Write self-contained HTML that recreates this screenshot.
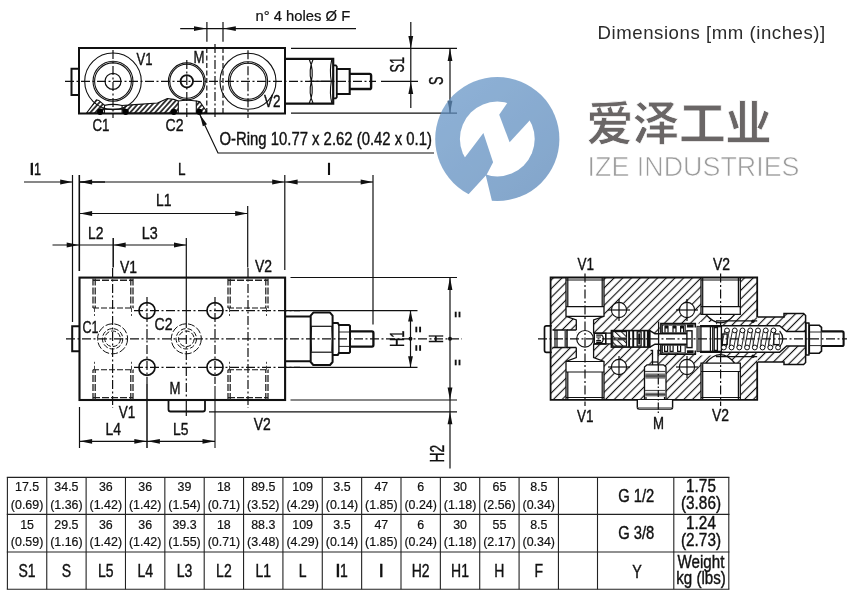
<!DOCTYPE html>
<html><head><meta charset="utf-8"><title>Dimensions</title>
<style>
html,body{margin:0;padding:0;background:#fff;}
body{width:859px;height:596px;overflow:hidden;font-family:"Liberation Sans",sans-serif;}
svg{display:block;}
svg text{font-family:"Liberation Sans",sans-serif;}
</style></head><body>
<svg width="859" height="596" viewBox="0 0 859 596">
<defs>
<pattern id="h" patternUnits="userSpaceOnUse" width="6.145" height="6.145" patternTransform="rotate(-45)">
<line x1="-1" y1="3.98" x2="8" y2="3.98" stroke="#101010" stroke-width="1.15"/>
</pattern>
<pattern id="h2" patternUnits="userSpaceOnUse" width="3.7" height="3.7" patternTransform="rotate(-48)">
<line x1="-1" y1="1.85" x2="5" y2="1.85" stroke="#101010" stroke-width="1.6"/>
</pattern>
<pattern id="h3" patternUnits="userSpaceOnUse" width="4.5" height="4.5" patternTransform="rotate(45)">
<line x1="0" y1="2.2" x2="4.5" y2="2.2" stroke="#101010" stroke-width="1"/>
</pattern>
</defs>
<rect width="859" height="596" fill="#fff"/>
<g opacity="0.999">
<g id="topview">
<path d="M86.6,113 L96.4,99.8 L98.8,100.4 L104.5,105.3 L104.5,113 Z" stroke="#101010" stroke-width="1.1" fill="url(#h2)" stroke-linejoin="miter" />
<path d="M122.1,113 V105.5 L135,104.6 L157.5,103 L167.3,98.5 L173.8,99.4 L178.3,101 V113 Z" stroke="#101010" stroke-width="1.1" fill="url(#h2)" stroke-linejoin="miter" />
<path d="M196.3,113 V101 L199.9,101.7 L206.4,111.2 V113 Z" stroke="#101010" stroke-width="1.1" fill="url(#h2)" stroke-linejoin="miter" />
<path d="M104.5,105.3 Q113,103.5 122.1,105.5" stroke="#101010" stroke-width="1.2" fill="none" stroke-linejoin="miter" />
<path d="M178.3,101 Q187,99.5 196.3,101" stroke="#101010" stroke-width="1.2" fill="none" stroke-linejoin="miter" />
<line x1="100" y1="109.2" x2="126" y2="109.2" stroke="#101010" stroke-width="1.2" stroke-linecap="butt"/>
<rect x="79" y="48" width="206" height="65.5" rx="0" stroke="#101010" stroke-width="2" fill="none"/>
<path d="M79,68.8 H71.5 V95 H79" stroke="#101010" stroke-width="2" fill="none" stroke-linejoin="miter" />
<line x1="65" y1="81.3" x2="376" y2="81.3" stroke="#101010" stroke-width="1.2" stroke-dasharray="9 2.5 2 2.5" stroke-linecap="butt"/>
<line x1="381" y1="81.3" x2="418" y2="81.3" stroke="#101010" stroke-width="1.2" stroke-linecap="butt"/>
<circle cx="113" cy="81.3" r="28.3" stroke="#101010" stroke-width="1.1" fill="none"/>
<circle cx="113" cy="81.3" r="20" stroke="#101010" stroke-width="1.1" fill="none"/>
<circle cx="113" cy="81.3" r="18.4" stroke="#101010" stroke-width="1.1" fill="none"/>
<circle cx="113" cy="81.3" r="8" stroke="#101010" stroke-width="1.2" fill="none"/>
<line x1="113" y1="50.0" x2="113" y2="118" stroke="#101010" stroke-width="1.2" stroke-dasharray="9 2.5 2 2.5" stroke-linecap="butt"/>
<circle cx="248" cy="81.3" r="28" stroke="#101010" stroke-width="1.1" fill="none"/>
<circle cx="248" cy="81.3" r="19.6" stroke="#101010" stroke-width="1.1" fill="none"/>
<circle cx="248" cy="81.3" r="18" stroke="#101010" stroke-width="1.1" fill="none"/>
<line x1="248" y1="50.3" x2="248" y2="118" stroke="#101010" stroke-width="1.2" stroke-dasharray="9 2.5 2 2.5" stroke-linecap="butt"/>
<circle cx="186.8" cy="81.3" r="18.4" stroke="#101010" stroke-width="1.1" fill="none"/>
<circle cx="186.8" cy="81.3" r="17" stroke="#101010" stroke-width="1.1" fill="none"/>
<circle cx="186.8" cy="81.3" r="6.2" stroke="#101010" stroke-width="1.8" fill="none"/>
<line x1="186.8" y1="60" x2="186.8" y2="118" stroke="#101010" stroke-width="1.2" stroke-dasharray="9 2.5 2 2.5" stroke-linecap="butt"/>
<line x1="206.8" y1="48" x2="206.8" y2="113" stroke="#101010" stroke-width="1.2" stroke-dasharray="5 2.5" stroke-linecap="butt"/>
<line x1="223" y1="48" x2="223" y2="113" stroke="#101010" stroke-width="1.2" stroke-dasharray="5 2.5" stroke-linecap="butt"/>
<line x1="215" y1="44" x2="215" y2="118" stroke="#101010" stroke-width="1.2" stroke-dasharray="9 2.5 2 2.5" stroke-linecap="butt"/>
<line x1="206.9" y1="22" x2="206.9" y2="41.7" stroke="#101010" stroke-width="1.2" stroke-linecap="butt"/>
<line x1="223" y1="22" x2="223" y2="41.7" stroke="#101010" stroke-width="1.2" stroke-linecap="butt"/>
<line x1="180.2" y1="28.6" x2="356" y2="28.6" stroke="#101010" stroke-width="1.2" stroke-linecap="butt"/>
<polygon points="206.30,28.60 194.00,31.00 194.00,26.20" fill="#101010"/>
<polygon points="223.50,28.60 235.80,26.20 235.80,31.00" fill="#101010"/>
<text transform="translate(255.50,20.50) scale(0.968,1)" font-size="15.3" text-anchor="start" fill="#111" font-weight="normal" stroke="#111" stroke-width="0.22">n° 4 holes Ø F</text>
<circle cx="100.1" cy="111.8" r="3.1" stroke="none" stroke-width="0" fill="#000"/>
<circle cx="125.7" cy="111.8" r="3.1" stroke="none" stroke-width="0" fill="#000"/>
<circle cx="173.8" cy="111.8" r="3.1" stroke="none" stroke-width="0" fill="#000"/>
<circle cx="199.4" cy="111.8" r="3.1" stroke="none" stroke-width="0" fill="#000"/>
<text transform="translate(136.50,64.50) scale(0.753,1)" font-size="17.4" text-anchor="start" fill="#111" font-weight="normal" stroke="#111" stroke-width="0.40">V1</text>
<text transform="translate(193.50,63.00) scale(0.759,1)" font-size="17.4" text-anchor="start" fill="#111" font-weight="normal" stroke="#111" stroke-width="0.40">M</text>
<text transform="translate(264.00,107.00) scale(0.776,1)" font-size="17.4" text-anchor="start" fill="#111" font-weight="normal" stroke="#111" stroke-width="0.40">V2</text>
<text transform="translate(92.50,131.00) scale(0.764,1)" font-size="17.4" text-anchor="start" fill="#111" font-weight="normal" stroke="#111" stroke-width="0.40">C1</text>
<text transform="translate(165.50,131.00) scale(0.809,1)" font-size="17.4" text-anchor="start" fill="#111" font-weight="normal" stroke="#111" stroke-width="0.40">C2</text>
<path d="M285,58.9 H333.2 V103.7 H285" stroke="#101010" stroke-width="2.2" fill="none" stroke-linejoin="miter" />
<path d="M309.3,59.5 Q314,70 311.3,81.3 Q314,93 309.3,103 M313,59.5 Q308.3,70 311.3,81.3 Q308.3,93 313,103" stroke="#101010" stroke-width="1.15" fill="none" stroke-linejoin="miter" />
<path d="M331.8,59.5 Q329.3,70 331.3,81.3 Q329.3,93 331.8,103" stroke="#101010" stroke-width="1.1" fill="none" stroke-linejoin="miter" />
<line x1="309.5" y1="81.3" x2="333" y2="81.3" stroke="#101010" stroke-width="1.3" stroke-linecap="butt"/>
<path d="M333.2,65.3 H335.8 L336.8,66.5 V97.2 L335.8,98.3 H333.2" stroke="#101010" stroke-width="1.8" fill="none" stroke-linejoin="miter" />
<path d="M336.8,69 H349.7 V94 H336.8" stroke="#101010" stroke-width="2.1" fill="none" stroke-linejoin="miter" />
<path d="M349.7,73.9 H369.6 Q371.1,73.9 371.1,75.6 V87.4 Q371.1,89 369.6,89 H349.7" stroke="#101010" stroke-width="2.4" fill="none" stroke-linejoin="miter" />
<line x1="291" y1="48.4" x2="457" y2="48.4" stroke="#101010" stroke-width="1.2" stroke-linecap="butt"/>
<line x1="291" y1="113.2" x2="457" y2="113.2" stroke="#101010" stroke-width="1.2" stroke-linecap="butt"/>
<line x1="410.8" y1="22" x2="410.8" y2="108" stroke="#101010" stroke-width="1.2" stroke-linecap="butt"/>
<polygon points="410.80,48.40 408.40,35.90 413.20,35.90" fill="#101010"/>
<polygon points="410.80,81.40 413.20,93.90 408.40,93.90" fill="#101010"/>
<text transform="translate(404.00,72.40) rotate(-90) scale(0.653,1)" font-size="19.5" text-anchor="start" fill="#111" font-weight="normal" stroke="#111" stroke-width="0.40">S1</text>
<line x1="450" y1="48.4" x2="450" y2="113.2" stroke="#101010" stroke-width="1.2" stroke-linecap="butt"/>
<polygon points="450.00,48.40 452.40,60.90 447.60,60.90" fill="#101010"/>
<polygon points="450.00,113.20 447.60,100.70 452.40,100.70" fill="#101010"/>
<text transform="translate(443.30,85.10) rotate(-90) scale(0.654,1)" font-size="19.5" text-anchor="start" fill="#111" font-weight="normal" stroke="#111" stroke-width="0.40">S</text>
<path d="M199.8,114.5 L218,153 H434" stroke="#101010" stroke-width="1.2" fill="none" stroke-linejoin="miter" />
<polygon points="199.80,114.50 207.01,124.37 202.85,126.33" fill="#101010"/>
<text transform="translate(219.50,145.30) scale(0.836,1)" font-size="17.8" text-anchor="start" fill="#111" font-weight="normal" stroke="#111" stroke-width="0.40">O-Ring 10.77 x 2.62 (0.42 x 0.1)</text>
</g>
<g id="front">
<line x1="24" y1="182" x2="72.5" y2="182" stroke="#101010" stroke-width="1.2" stroke-linecap="butt"/>
<polygon points="72.50,182.00 60.20,184.40 60.20,179.60" fill="#101010"/>
<line x1="72.5" y1="175" x2="72.5" y2="322" stroke="#101010" stroke-width="1.2" stroke-linecap="butt"/>
<line x1="79.3" y1="175" x2="79.3" y2="271" stroke="#101010" stroke-width="1.6" stroke-linecap="butt"/>
<line x1="79.3" y1="182" x2="284.5" y2="182" stroke="#101010" stroke-width="1.2" stroke-linecap="butt"/>
<polygon points="79.80,182.00 92.10,179.60 92.10,184.40" fill="#101010"/>
<polygon points="284.50,182.00 272.20,184.40 272.20,179.60" fill="#101010"/>
<line x1="80" y1="182" x2="105" y2="182" stroke="#101010" stroke-width="1.4" stroke-linecap="butt"/>
<line x1="284.8" y1="175" x2="284.8" y2="270" stroke="#101010" stroke-width="1.2" stroke-linecap="butt"/>
<line x1="284.5" y1="182" x2="373" y2="182" stroke="#101010" stroke-width="1.2" stroke-linecap="butt"/>
<polygon points="285.30,182.00 297.60,179.60 297.60,184.40" fill="#101010"/>
<polygon points="373.00,182.00 360.70,184.40 360.70,179.60" fill="#101010"/>
<line x1="373" y1="175" x2="373" y2="324.5" stroke="#101010" stroke-width="1.2" stroke-linecap="butt"/>
<text transform="translate(30.50,175.00) scale(0.724,1)" font-size="17.4" text-anchor="start" fill="#111" font-weight="normal" stroke="#111" stroke-width="0.40">I1</text>
<line x1="31.6" y1="163" x2="31.6" y2="175" stroke="#111" stroke-width="1.9" stroke-linecap="butt"/>
<text transform="translate(178.00,175.00) scale(0.779,1)" font-size="17.4" text-anchor="start" fill="#111" font-weight="normal" stroke="#111" stroke-width="0.40">L</text>
<line x1="329" y1="162.8" x2="329" y2="175" stroke="#111" stroke-width="2.1" stroke-linecap="butt"/>
<line x1="79.3" y1="213.5" x2="247.5" y2="213.5" stroke="#101010" stroke-width="1.2" stroke-linecap="butt"/>
<polygon points="79.80,213.50 92.10,211.10 92.10,215.90" fill="#101010"/>
<polygon points="247.50,213.50 235.20,215.90 235.20,211.10" fill="#101010"/>
<line x1="247.7" y1="206" x2="247.7" y2="267.5" stroke="#101010" stroke-width="1.2" stroke-linecap="butt"/>
<text transform="translate(156.00,206.00) scale(0.800,1)" font-size="17.4" text-anchor="start" fill="#111" font-weight="normal" stroke="#111" stroke-width="0.40">L1</text>
<line x1="52.5" y1="245" x2="186.3" y2="245" stroke="#101010" stroke-width="1.2" stroke-linecap="butt"/>
<polygon points="79.00,245.00 66.70,247.40 66.70,242.60" fill="#101010"/>
<polygon points="113.40,245.00 125.70,242.60 125.70,247.40" fill="#101010"/>
<polygon points="186.30,245.00 174.00,247.40 174.00,242.60" fill="#101010"/>
<line x1="113.2" y1="238" x2="113.2" y2="267.5" stroke="#101010" stroke-width="1.5" stroke-linecap="butt"/>
<line x1="186.3" y1="238" x2="186.3" y2="319" stroke="#101010" stroke-width="1.2" stroke-linecap="butt"/>
<text transform="translate(88.00,238.80) scale(0.800,1)" font-size="17.4" text-anchor="start" fill="#111" font-weight="normal" stroke="#111" stroke-width="0.40">L2</text>
<text transform="translate(141.80,238.80) scale(0.826,1)" font-size="17.4" text-anchor="start" fill="#111" font-weight="normal" stroke="#111" stroke-width="0.40">L3</text>
<text transform="translate(120.00,272.50) scale(0.800,1)" font-size="17.4" text-anchor="start" fill="#111" font-weight="normal" stroke="#111" stroke-width="0.40">V1</text>
<text transform="translate(255.00,271.50) scale(0.800,1)" font-size="17.4" text-anchor="start" fill="#111" font-weight="normal" stroke="#111" stroke-width="0.40">V2</text>
<rect x="79.5" y="277.6" width="205.6" height="122.4" rx="0" stroke="#101010" stroke-width="2.1" fill="none"/>
<path d="M79.5,326.3 H72.2 V351.3 H79.5" stroke="#101010" stroke-width="2" fill="none" stroke-linejoin="miter" />
<line x1="66" y1="338.8" x2="462" y2="338.8" stroke="#101010" stroke-width="1.2" stroke-dasharray="9 2.5 2 2.5" stroke-linecap="butt"/>
<line x1="112.6" y1="268" x2="112.6" y2="408" stroke="#101010" stroke-width="1.2" stroke-dasharray="9 2.5 2 2.5" stroke-linecap="butt"/>
<line x1="248" y1="268" x2="248" y2="408" stroke="#101010" stroke-width="1.2" stroke-dasharray="9 2.5 2 2.5" stroke-linecap="butt"/>
<line x1="186.3" y1="319" x2="186.3" y2="404" stroke="#101010" stroke-width="1.2" stroke-dasharray="9 2.5 2 2.5" stroke-linecap="butt"/>
<line x1="186.3" y1="404" x2="186.3" y2="416" stroke="#101010" stroke-width="1.2" stroke-linecap="butt"/>
<line x1="147" y1="297" x2="147" y2="384" stroke="#101010" stroke-width="1.2" stroke-dasharray="9 2.5 2 2.5" stroke-linecap="butt"/>
<line x1="215" y1="297" x2="215" y2="384" stroke="#101010" stroke-width="1.2" stroke-dasharray="9 2.5 2 2.5" stroke-linecap="butt"/>
<line x1="147" y1="384" x2="147" y2="448" stroke="#101010" stroke-width="1.5" stroke-linecap="butt"/>
<line x1="215" y1="386" x2="215" y2="448" stroke="#101010" stroke-width="1.1" stroke-linecap="butt"/>
<line x1="134" y1="310.6" x2="300" y2="310.6" stroke="#101010" stroke-width="1.2" stroke-dasharray="9 2.5 2 2.5" stroke-linecap="butt"/>
<line x1="284" y1="310.6" x2="417.5" y2="310.6" stroke="#101010" stroke-width="1.2" stroke-linecap="butt"/>
<line x1="134" y1="367.3" x2="300" y2="367.3" stroke="#101010" stroke-width="1.2" stroke-dasharray="9 2.5 2 2.5" stroke-linecap="butt"/>
<line x1="284" y1="367.3" x2="417.5" y2="367.3" stroke="#101010" stroke-width="1.2" stroke-linecap="butt"/>
<path d="M93,278.5 V308 M133,278.5 V308 M95.2,278.5 V308 M130.8,278.5 V308" stroke="#222" stroke-width="1.3" fill="none" stroke-dasharray="7 2" stroke-linejoin="miter" />
<line x1="93" y1="308" x2="133.5" y2="308" stroke="#101010" stroke-width="1.1" stroke-dasharray="6 2" stroke-linecap="butt"/>
<path d="M94.5,308 V316 M131.5,308 V316" stroke="#333" stroke-width="0.9" fill="none" stroke-dasharray="4 2" stroke-linejoin="miter" />
<path d="M93,400 V369.8 M133,400 V369.8 M95.2,400 V369.8 M130.8,400 V369.8" stroke="#222" stroke-width="1.3" fill="none" stroke-dasharray="7 2" stroke-linejoin="miter" />
<line x1="93" y1="369.8" x2="133.5" y2="369.8" stroke="#101010" stroke-width="1.1" stroke-dasharray="6 2" stroke-linecap="butt"/>
<path d="M94.5,369.8 V361.8 M131.5,369.8 V361.8" stroke="#333" stroke-width="0.9" fill="none" stroke-dasharray="4 2" stroke-linejoin="miter" />
<path d="M93,280.2 H133" stroke="#222" stroke-width="1.4" fill="none" stroke-dasharray="7 2" stroke-linejoin="miter" />
<path d="M93,397.6 H133" stroke="#222" stroke-width="1.4" fill="none" stroke-dasharray="7 2" stroke-linejoin="miter" />
<path d="M228,278.5 V308 M268,278.5 V308 M230.2,278.5 V308 M265.8,278.5 V308" stroke="#222" stroke-width="1.3" fill="none" stroke-dasharray="7 2" stroke-linejoin="miter" />
<line x1="228" y1="308" x2="268.5" y2="308" stroke="#101010" stroke-width="1.1" stroke-dasharray="6 2" stroke-linecap="butt"/>
<path d="M229.5,308 V316 M266.5,308 V316" stroke="#333" stroke-width="0.9" fill="none" stroke-dasharray="4 2" stroke-linejoin="miter" />
<path d="M228,400 V369.8 M268,400 V369.8 M230.2,400 V369.8 M265.8,400 V369.8" stroke="#222" stroke-width="1.3" fill="none" stroke-dasharray="7 2" stroke-linejoin="miter" />
<line x1="228" y1="369.8" x2="268.5" y2="369.8" stroke="#101010" stroke-width="1.1" stroke-dasharray="6 2" stroke-linecap="butt"/>
<path d="M229.5,369.8 V361.8 M266.5,369.8 V361.8" stroke="#333" stroke-width="0.9" fill="none" stroke-dasharray="4 2" stroke-linejoin="miter" />
<path d="M228,280.2 H268" stroke="#222" stroke-width="1.4" fill="none" stroke-dasharray="7 2" stroke-linejoin="miter" />
<path d="M228,397.6 H268" stroke="#222" stroke-width="1.4" fill="none" stroke-dasharray="7 2" stroke-linejoin="miter" />
<circle cx="147" cy="310.6" r="8" stroke="#101010" stroke-width="1.7" fill="none"/>
<circle cx="147" cy="367.3" r="8" stroke="#101010" stroke-width="1.7" fill="none"/>
<circle cx="215" cy="310.6" r="8" stroke="#101010" stroke-width="1.7" fill="none"/>
<circle cx="215" cy="367.3" r="8" stroke="#101010" stroke-width="1.7" fill="none"/>
<circle cx="112.6" cy="338.8" r="15" stroke="#101010" stroke-width="1" fill="none" stroke-dasharray="7 2"/>
<circle cx="112.6" cy="338.8" r="10.2" stroke="#101010" stroke-width="1" fill="none" stroke-dasharray="5 2"/>
<circle cx="112.6" cy="338.8" r="7.8" stroke="#101010" stroke-width="1" fill="none" stroke-dasharray="5 2"/>
<circle cx="186.3" cy="338.8" r="15" stroke="#101010" stroke-width="1" fill="none" stroke-dasharray="7 2"/>
<circle cx="186.3" cy="338.8" r="10.2" stroke="#101010" stroke-width="1" fill="none" stroke-dasharray="5 2"/>
<circle cx="186.3" cy="338.8" r="7.8" stroke="#101010" stroke-width="1" fill="none" stroke-dasharray="5 2"/>
<text transform="translate(82.50,332.50) scale(0.719,1)" font-size="17.4" text-anchor="start" fill="#111" font-weight="normal" stroke="#111" stroke-width="0.40">C1</text>
<text transform="translate(154.50,329.50) scale(0.809,1)" font-size="17.4" text-anchor="start" fill="#111" font-weight="normal" stroke="#111" stroke-width="0.40">C2</text>
<text transform="translate(169.50,394.30) scale(0.759,1)" font-size="17.4" text-anchor="start" fill="#111" font-weight="normal" stroke="#111" stroke-width="0.40">M</text>
<path d="M168.5,400 V409.5 Q168.5,411.5 170.5,411.5 H203 Q205,411.5 205,409.5 V400" stroke="#101010" stroke-width="1.8" fill="none" stroke-linejoin="miter" />
<line x1="79.5" y1="407" x2="79.5" y2="448" stroke="#101010" stroke-width="1.2" stroke-linecap="butt"/>
<line x1="79.5" y1="441.3" x2="215" y2="441.3" stroke="#101010" stroke-width="1.2" stroke-linecap="butt"/>
<polygon points="79.80,441.30 92.10,438.90 92.10,443.70" fill="#101010"/>
<polygon points="146.60,441.30 134.30,443.70 134.30,438.90" fill="#101010"/>
<polygon points="147.60,441.30 159.90,438.90 159.90,443.70" fill="#101010"/>
<polygon points="214.80,441.30 202.50,443.70 202.50,438.90" fill="#101010"/>
<text transform="translate(118.80,418.00) scale(0.776,1)" font-size="17.4" text-anchor="start" fill="#111" font-weight="normal" stroke="#111" stroke-width="0.40">V1</text>
<text transform="translate(105.50,435.00) scale(0.800,1)" font-size="17.4" text-anchor="start" fill="#111" font-weight="normal" stroke="#111" stroke-width="0.40">L4</text>
<text transform="translate(173.00,435.00) scale(0.800,1)" font-size="17.4" text-anchor="start" fill="#111" font-weight="normal" stroke="#111" stroke-width="0.40">L5</text>
<text transform="translate(253.80,430.00) scale(0.800,1)" font-size="17.4" text-anchor="start" fill="#111" font-weight="normal" stroke="#111" stroke-width="0.40">V2</text>
<path d="M285.1,316.4 H310.8 M285.1,361.3 H310.8" stroke="#101010" stroke-width="2" fill="none" stroke-linejoin="miter" />
<path d="M313.3,312.6 H330 L332.6,315.6 V362 L330,365 H313.3 L310.7,362 V315.6 Z" stroke="#101010" stroke-width="2" fill="none" stroke-linejoin="round" />
<line x1="310.5" y1="326.3" x2="332.5" y2="326.3" stroke="#101010" stroke-width="1.2" stroke-linecap="butt"/>
<line x1="310.5" y1="352.2" x2="332.5" y2="352.2" stroke="#101010" stroke-width="1.2" stroke-linecap="butt"/>
<path d="M311.6,327 Q310.4,339 311.6,351.5 M331.8,327 Q333,339 331.8,351.5" stroke="#101010" stroke-width="0.9" fill="none" stroke-linejoin="miter" />
<path d="M332.6,322.9 H337.8 L338.9,325 H349 L350,326 V352 L349,353 H338.9 L337.8,355 H332.6" stroke="#101010" stroke-width="2" fill="none" stroke-linejoin="miter" />
<line x1="339" y1="332" x2="350" y2="332" stroke="#101010" stroke-width="0.9" stroke-linecap="butt"/>
<line x1="339" y1="346.4" x2="350" y2="346.4" stroke="#101010" stroke-width="0.9" stroke-linecap="butt"/>
<line x1="338.9" y1="325" x2="338.9" y2="353" stroke="#101010" stroke-width="1.4" stroke-linecap="butt"/>
<path d="M350,331.4 H372 Q373.4,331.4 373.4,333 V345 Q373.4,346.6 372,346.6 H350" stroke="#101010" stroke-width="2.3" fill="none" stroke-linejoin="miter" />
<line x1="290.5" y1="277.5" x2="457" y2="277.5" stroke="#101010" stroke-width="1.2" stroke-linecap="butt"/>
<line x1="290.5" y1="400" x2="457" y2="400" stroke="#101010" stroke-width="1.2" stroke-linecap="butt"/>
<line x1="209" y1="411.8" x2="457" y2="411.8" stroke="#101010" stroke-width="1.2" stroke-linecap="butt"/>
<line x1="410.5" y1="310.6" x2="410.5" y2="367.3" stroke="#101010" stroke-width="1.2" stroke-linecap="butt"/>
<polygon points="410.50,310.60 412.90,321.60 408.10,321.60" fill="#101010"/>
<polygon points="410.50,367.30 408.10,356.30 412.90,356.30" fill="#101010"/>
<circle cx="410.5" cy="338.8" r="2" stroke="none" stroke-width="0" fill="#111"/>
<text transform="translate(404.30,347.00) rotate(-90) scale(0.651,1)" font-size="19.5" text-anchor="start" fill="#111" font-weight="normal" stroke="#111" stroke-width="0.40">H1</text>
<line x1="450" y1="277.5" x2="450" y2="468.5" stroke="#101010" stroke-width="1.2" stroke-linecap="butt"/>
<polygon points="450.00,277.50 452.40,290.00 447.60,290.00" fill="#101010"/>
<polygon points="450.00,400.00 447.60,387.50 452.40,387.50" fill="#101010"/>
<polygon points="450.00,411.80 452.40,424.30 447.60,424.30" fill="#101010"/>
<circle cx="450" cy="338.8" r="2" stroke="none" stroke-width="0" fill="#111"/>
<text transform="translate(443.20,343.10) rotate(-90) scale(0.602,1)" font-size="19.5" text-anchor="start" fill="#111" font-weight="normal" stroke="#111" stroke-width="0.40">H</text>
<text transform="translate(443.80,462.50) rotate(-90) scale(0.712,1)" font-size="19.5" text-anchor="start" fill="#111" font-weight="normal" stroke="#111" stroke-width="0.40">H2</text>
<line x1="416.3" y1="326.7" x2="416.3" y2="332.3" stroke="#101010" stroke-width="1.9" stroke-linecap="butt"/>
<line x1="420.09999999999997" y1="326.7" x2="420.09999999999997" y2="332.3" stroke="#101010" stroke-width="1.9" stroke-linecap="butt"/>
<line x1="416.3" y1="345.2" x2="416.3" y2="350.8" stroke="#101010" stroke-width="1.9" stroke-linecap="butt"/>
<line x1="420.09999999999997" y1="345.2" x2="420.09999999999997" y2="350.8" stroke="#101010" stroke-width="1.9" stroke-linecap="butt"/>
<line x1="455.70000000000005" y1="311.7" x2="455.70000000000005" y2="317.3" stroke="#101010" stroke-width="1.9" stroke-linecap="butt"/>
<line x1="459.5" y1="311.7" x2="459.5" y2="317.3" stroke="#101010" stroke-width="1.9" stroke-linecap="butt"/>
<line x1="455.70000000000005" y1="359.7" x2="455.70000000000005" y2="365.3" stroke="#101010" stroke-width="1.9" stroke-linecap="butt"/>
<line x1="459.5" y1="359.7" x2="459.5" y2="365.3" stroke="#101010" stroke-width="1.9" stroke-linecap="butt"/>
</g>
<g id="section">
<rect x="550.6" y="277.4" width="206.6" height="122.6" rx="0" stroke="none" stroke-width="0" fill="url(#h)"/>
<path d="M757.6,317 H784 V313.5 H803.6 L805.6,315.5 V362.5 L803.6,364.5 H784 V362 H757.6 Z" stroke="none" stroke-width="0" fill="#fff" stroke-linejoin="miter" />
<path d="M757.6,317 H784 V313.5 H803.6 L805.6,315.5 V362.5 L803.6,364.5 H784 V362 H757.6 Z" stroke="none" stroke-width="0" fill="url(#h)" stroke-linejoin="miter" />
<path d="M566,277.4 H604 V316.3 L593.6,320 V357.5 L604,361.5 V400 H566 V361.5 L576.3,357.5 V320 L566,316.3 Z" stroke="none" stroke-width="0" fill="#fff" stroke-linejoin="miter" />
<circle cx="585" cy="338.8" r="8.4" fill="#fff"/>
<path d="M550.6,330 H576.3 V333.2 H611 V330.6 H649.8 L655,333.7 H659.7 V323.5 H700 V322 H716 V325.7 H757.6 V352.2 H716 V355.5 H700 V353.2 H659.7 V351.2 H649.8 V347.1 H611 V343.9 H576.3 V347.5 H550.6 Z" stroke="none" stroke-width="0" fill="#fff" stroke-linejoin="miter" />
<path d="M701,277.4 H740.3 V314.3 H734.8 Q720.5,331.3 705.6,314.3 H701 Z" stroke="none" stroke-width="0" fill="#fff" stroke-linejoin="miter" />
<path d="M701,400 H740.3 V363.2 H734.8 Q720.5,346.2 705.6,363.2 H701 Z" stroke="none" stroke-width="0" fill="#fff" stroke-linejoin="miter" />
<path d="M757,325.7 H779.6 L786.6,331.5 H806 V346 H786.6 L779.6,352.2 H757 Z" stroke="none" stroke-width="0" fill="#fff" stroke-linejoin="miter" />
<path d="M644.5,400 V367 L647,364.8 H652.5 V350.5 H650.5 V347 H660.6 V350.5 H658 V364.8 H663.5 L666,367 V400 Z" stroke="none" stroke-width="0" fill="#fff" stroke-linejoin="miter" />
<circle cx="619" cy="310" r="7.6" fill="#fff"/>
<circle cx="619" cy="367" r="7.6" fill="#fff"/>
<circle cx="687" cy="310" r="7.6" fill="#fff"/>
<circle cx="687" cy="367" r="7.6" fill="#fff"/>
<path d="M757.2,317 V277.5 H550.6 V399.8 H757.2 V362" stroke="#101010" stroke-width="1.8" fill="none" stroke-linejoin="miter" />
<path d="M566,277.4 V316.3 L576.3,320 V330 M604,277.4 V316.3 L593.6,320 V333.2 M566,400 V361.5 L576.3,357.5 V347.5 M604,400 V361.5 L593.6,357.5 V343.9" stroke="#101010" stroke-width="1.3" fill="none" stroke-linejoin="miter" />
<path d="M567.8,278 V306.6 M602.2,278 V306.6 M567.8,400 V372 M602.2,400 V372" stroke="#101010" stroke-width="1.2" fill="none" stroke-linejoin="miter" />
<line x1="566" y1="306.6" x2="604" y2="306.6" stroke="#101010" stroke-width="1.2" stroke-linecap="butt"/>
<line x1="566" y1="372" x2="604" y2="372" stroke="#101010" stroke-width="1.2" stroke-linecap="butt"/>
<line x1="566" y1="316.3" x2="604" y2="316.3" stroke="#101010" stroke-width="1.2" stroke-linecap="butt"/>
<line x1="566" y1="361.5" x2="604" y2="361.5" stroke="#101010" stroke-width="1.2" stroke-linecap="butt"/>
<circle cx="585" cy="338.8" r="8.3" stroke="#101010" stroke-width="1.2" fill="none"/>
<line x1="585" y1="273.5" x2="585" y2="406" stroke="#101010" stroke-width="1.2" stroke-dasharray="9 2.5 2 2.5" stroke-linecap="butt"/>
<path d="M701,277.4 V314.3 H740.3 V277.4 M705.6,314.3 Q720.5,331.3 734.8,314.3 M701,400 V363.2 H740.3 V400 M705.6,363.2 Q720.5,346.2 734.8,363.2" stroke="#101010" stroke-width="1.3" fill="none" stroke-linejoin="miter" />
<path d="M702.7,278 V314 M738.4,278 V306.6 M702.7,400 V363.5 M738.4,400 V372" stroke="#101010" stroke-width="1.2" fill="none" stroke-linejoin="miter" />
<line x1="701" y1="280" x2="740.3" y2="280" stroke="#101010" stroke-width="1.2" stroke-linecap="butt"/>
<line x1="701" y1="397.5" x2="740.3" y2="397.5" stroke="#101010" stroke-width="1.2" stroke-linecap="butt"/>
<line x1="566" y1="280" x2="604" y2="280" stroke="#101010" stroke-width="1.2" stroke-linecap="butt"/>
<line x1="566" y1="397.5" x2="604" y2="397.5" stroke="#101010" stroke-width="1.2" stroke-linecap="butt"/>
<line x1="701" y1="306.7" x2="740.3" y2="306.7" stroke="#101010" stroke-width="1.2" stroke-linecap="butt"/>
<line x1="701" y1="371.5" x2="740.3" y2="371.5" stroke="#101010" stroke-width="1.2" stroke-linecap="butt"/>
<line x1="720.6" y1="273.5" x2="720.6" y2="406" stroke="#101010" stroke-width="1.2" stroke-dasharray="9 2.5 2 2.5" stroke-linecap="butt"/>
<circle cx="619" cy="310" r="7.6" stroke="#101010" stroke-width="1.1" fill="none"/>
<line x1="608" y1="310" x2="630" y2="310" stroke="#101010" stroke-width="1.2" stroke-linecap="butt"/>
<line x1="619" y1="299" x2="619" y2="321" stroke="#101010" stroke-width="1.2" stroke-linecap="butt"/>
<circle cx="619" cy="367" r="7.6" stroke="#101010" stroke-width="1.1" fill="none"/>
<line x1="608" y1="367" x2="630" y2="367" stroke="#101010" stroke-width="1.2" stroke-linecap="butt"/>
<line x1="619" y1="356" x2="619" y2="378" stroke="#101010" stroke-width="1.2" stroke-linecap="butt"/>
<circle cx="687" cy="310" r="7.6" stroke="#101010" stroke-width="1.1" fill="none"/>
<line x1="676" y1="310" x2="698" y2="310" stroke="#101010" stroke-width="1.2" stroke-linecap="butt"/>
<line x1="687" y1="299" x2="687" y2="321" stroke="#101010" stroke-width="1.2" stroke-linecap="butt"/>
<circle cx="687" cy="367" r="7.6" stroke="#101010" stroke-width="1.1" fill="none"/>
<line x1="676" y1="367" x2="698" y2="367" stroke="#101010" stroke-width="1.2" stroke-linecap="butt"/>
<line x1="687" y1="356" x2="687" y2="378" stroke="#101010" stroke-width="1.2" stroke-linecap="butt"/>
<path d="M551.6,325.8 H546.4 Q544.5,325.8 544.5,327.8 V350.2 Q544.5,352.3 546.4,352.3 H551.6" stroke="#101010" stroke-width="1.7" fill="#fff" stroke-linejoin="miter" />
<line x1="550.6" y1="325" x2="550.6" y2="353" stroke="#101010" stroke-width="1.8" stroke-linecap="butt"/>
<path d="M552.5,330 H567 V347.5 H552.5" stroke="#101010" stroke-width="1.5" fill="none" stroke-linejoin="miter" />
<line x1="555" y1="330" x2="555" y2="347.5" stroke="#101010" stroke-width="1.2" stroke-linecap="butt"/>
<line x1="557" y1="330" x2="557" y2="347.5" stroke="#101010" stroke-width="1.2" stroke-linecap="butt"/>
<line x1="565.2" y1="330" x2="565.2" y2="347.5" stroke="#444" stroke-width="1.4" stroke-linecap="butt"/>
<path d="M567,330 H576.3 M567,347.5 H576.3 M593.6,333.2 H611 M593.6,343.9 H611" stroke="#101010" stroke-width="1.3" fill="none" stroke-linejoin="miter" />
<path d="M594.2,333.2 H605.8 V343.9 H594.2 Z" stroke="#101010" stroke-width="1.6" fill="none" stroke-linejoin="miter" />
<path d="M596.2,335.2 H602 Q604.8,338.7 602,342.3 H596.2 M596.2,337 H601 M596.2,340.6 H601" stroke="#101010" stroke-width="1.2" fill="none" stroke-linejoin="miter" />
<rect x="611.4" y="330.6" width="38.4" height="16.5" rx="0" stroke="#101010" stroke-width="1.6" fill="none"/>
<rect x="612.7" y="331.6" width="13.8" height="14.5" rx="0" stroke="#101010" stroke-width="1.2" fill="url(#h3)"/>
<rect x="613" y="337.3" width="13.5" height="3.2" rx="0" stroke="none" stroke-width="0" fill="#666"/>
<line x1="629.1" y1="330.6" x2="629.1" y2="347.1" stroke="#101010" stroke-width="1.9" stroke-linecap="butt"/>
<line x1="633.2" y1="330.6" x2="633.2" y2="347.1" stroke="#101010" stroke-width="1.9" stroke-linecap="butt"/>
<line x1="644.3" y1="330.6" x2="644.3" y2="347.1" stroke="#101010" stroke-width="2.0" stroke-linecap="butt"/>
<line x1="648.2" y1="330.6" x2="648.2" y2="347.1" stroke="#101010" stroke-width="2.6" stroke-linecap="butt"/>
<rect x="637.2" y="331.8" width="3.9" height="14.2" rx="0" stroke="#101010" stroke-width="1.3" fill="none"/>
<rect x="638.2" y="333.4" width="1.9" height="11" rx="0" stroke="none" stroke-width="0" fill="#111"/>
<path d="M649.8,330.6 L655,333.7 H686.9 M649.8,347.1 L655,344.2 H686.9" stroke="#101010" stroke-width="1.4" fill="none" stroke-linejoin="miter" />
<line x1="658.6" y1="321.5" x2="658.6" y2="354" stroke="#101010" stroke-width="1.3" stroke-linecap="butt"/>
<path d="M660.9,333.7 V323.6 H695.3 V327.5 M660.9,344.2 V354.3 H695.3 V350.5" stroke="#101010" stroke-width="1.6" fill="none" stroke-linejoin="miter" />
<rect x="662.3" y="325" width="22.9" height="7.9" rx="0" stroke="#101010" stroke-width="1.1" fill="none"/>
<rect x="662.3" y="345.1" width="22.9" height="7.9" rx="0" stroke="#101010" stroke-width="1.1" fill="none"/>
<path d="M665.0,326 V332.5 M668.0,326 V332.5" stroke="#101010" stroke-width="1.2" fill="none" stroke-linejoin="miter" />
<line x1="666.5" y1="325.5" x2="666.5" y2="328.5" stroke="#101010" stroke-width="3.0" stroke-linecap="butt"/>
<path d="M673.0,326 V332.5 M676.0,326 V332.5" stroke="#101010" stroke-width="1.2" fill="none" stroke-linejoin="miter" />
<line x1="674.5" y1="325.5" x2="674.5" y2="328.5" stroke="#101010" stroke-width="3.0" stroke-linecap="butt"/>
<path d="M680.6,326 V332.5 M683.6,326 V332.5" stroke="#101010" stroke-width="1.2" fill="none" stroke-linejoin="miter" />
<line x1="682.1" y1="325.5" x2="682.1" y2="328.5" stroke="#101010" stroke-width="3.0" stroke-linecap="butt"/>
<path d="M664.6,345.5 V351.3 H667.6 V345.5" stroke="#101010" stroke-width="1.2" fill="none" stroke-linejoin="miter" />
<path d="M670.1,345.5 V351.3 H673.1 V345.5" stroke="#101010" stroke-width="1.2" fill="none" stroke-linejoin="miter" />
<path d="M677.6,345.5 V351.3 H680.6 V345.5" stroke="#101010" stroke-width="1.2" fill="none" stroke-linejoin="miter" />
<rect x="686.9" y="330.8" width="5.1" height="16.8" rx="0" stroke="#101010" stroke-width="1.4" fill="#fff"/>
<rect x="686.9" y="324.4" width="6.7" height="3.1" rx="0" stroke="none" stroke-width="0" fill="#111"/>
<rect x="686.9" y="350.3" width="6.7" height="3.1" rx="0" stroke="none" stroke-width="0" fill="#111"/>
<rect x="697.2" y="326.6" width="24.2" height="24.8" rx="0" stroke="#101010" stroke-width="1.4" fill="#fff"/>
<rect x="697.2" y="326.6" width="3.4" height="24.8" rx="0" stroke="none" stroke-width="0" fill="#777"/>
<line x1="701" y1="326.6" x2="701" y2="351.4" stroke="#101010" stroke-width="1.2" stroke-linecap="butt"/>
<line x1="710.4" y1="326.6" x2="710.4" y2="351.4" stroke="#101010" stroke-width="1.2" stroke-linecap="butt"/>
<line x1="712.7" y1="326.6" x2="712.7" y2="351.4" stroke="#101010" stroke-width="1.2" stroke-linecap="butt"/>
<rect x="714.2" y="327.6" width="3.2" height="22.8" rx="0" stroke="#101010" stroke-width="1.3" fill="none"/>
<rect x="722.2" y="334" width="5" height="10.6" rx="0" stroke="#101010" stroke-width="1.3" fill="none"/>
<path d="M757.6,317 H784 V313.5 H803.6 L805.6,315.5 V362.5 L803.6,364.5 H784 V362 H757.6" stroke="#101010" stroke-width="1.5" fill="none" stroke-linejoin="miter" />
<path d="M716,320.8 H757.2 M716,356.6 H757.2" stroke="#101010" stroke-width="1.2" fill="none" stroke-linejoin="miter" />
<path d="M700,325.7 H779.6 L786.6,331.5 H806 M700,352.2 H779.6 L786.6,346 H806" stroke="#101010" stroke-width="1.4" fill="none" stroke-linejoin="miter" />
<circle cx="753" cy="321.3" r="1.7" stroke="none" stroke-width="0" fill="#111"/>
<circle cx="753" cy="356.2" r="1.7" stroke="none" stroke-width="0" fill="#111"/>
<path d="M724.7,330.4 L721.5,347.5 M729.3,330.4 L726.1,347.5" stroke="#101010" stroke-width="0.9" fill="none" stroke-linejoin="miter" />
<path d="M728.0,332.5 L730.5,345.5" stroke="#555" stroke-width="0.6" fill="none" stroke-linejoin="miter" />
<path d="M732.5,330.4 L729.2,347.5 M737.0,330.4 L733.8,347.5" stroke="#101010" stroke-width="0.9" fill="none" stroke-linejoin="miter" />
<path d="M735.8,332.5 L738.3,345.5" stroke="#555" stroke-width="0.6" fill="none" stroke-linejoin="miter" />
<path d="M740.2,330.4 L737.0,347.5 M744.8,330.4 L741.6,347.5" stroke="#101010" stroke-width="0.9" fill="none" stroke-linejoin="miter" />
<path d="M743.5,332.5 L746.0,345.5" stroke="#555" stroke-width="0.6" fill="none" stroke-linejoin="miter" />
<path d="M748.0,330.4 L744.8,347.5 M752.5,330.4 L749.3,347.5" stroke="#101010" stroke-width="0.9" fill="none" stroke-linejoin="miter" />
<path d="M751.2,332.5 L753.8,345.5" stroke="#555" stroke-width="0.6" fill="none" stroke-linejoin="miter" />
<path d="M755.7,330.4 L752.5,347.5 M760.3,330.4 L757.1,347.5" stroke="#101010" stroke-width="0.9" fill="none" stroke-linejoin="miter" />
<path d="M759.0,332.5 L761.5,345.5" stroke="#555" stroke-width="0.6" fill="none" stroke-linejoin="miter" />
<path d="M763.5,330.4 L760.2,347.5 M768.0,330.4 L764.8,347.5" stroke="#101010" stroke-width="0.9" fill="none" stroke-linejoin="miter" />
<path d="M766.8,332.5 L769.3,345.5" stroke="#555" stroke-width="0.6" fill="none" stroke-linejoin="miter" />
<path d="M771.2,330.4 L768.0,347.5 M775.8,330.4 L772.6,347.5" stroke="#101010" stroke-width="0.9" fill="none" stroke-linejoin="miter" />
<path d="M774.5,332.5 L777.0,345.5" stroke="#555" stroke-width="0.6" fill="none" stroke-linejoin="miter" />
<circle cx="727.0" cy="330.4" r="2.4" stroke="#101010" stroke-width="1" fill="#fff"/>
<circle cx="734.75" cy="330.4" r="2.4" stroke="#101010" stroke-width="1" fill="#fff"/>
<circle cx="742.5" cy="330.4" r="2.4" stroke="#101010" stroke-width="1" fill="#fff"/>
<circle cx="750.25" cy="330.4" r="2.4" stroke="#101010" stroke-width="1" fill="#fff"/>
<circle cx="758.0" cy="330.4" r="2.4" stroke="#101010" stroke-width="1" fill="#fff"/>
<circle cx="765.75" cy="330.4" r="2.4" stroke="#101010" stroke-width="1" fill="#fff"/>
<circle cx="773.5" cy="330.4" r="2.4" stroke="#101010" stroke-width="1" fill="#fff"/>
<circle cx="723.8" cy="347.5" r="2.4" stroke="#101010" stroke-width="1" fill="#fff"/>
<circle cx="731.55" cy="347.5" r="2.4" stroke="#101010" stroke-width="1" fill="#fff"/>
<circle cx="739.3" cy="347.5" r="2.4" stroke="#101010" stroke-width="1" fill="#fff"/>
<circle cx="747.05" cy="347.5" r="2.4" stroke="#101010" stroke-width="1" fill="#fff"/>
<circle cx="754.8" cy="347.5" r="2.4" stroke="#101010" stroke-width="1" fill="#fff"/>
<circle cx="762.55" cy="347.5" r="2.4" stroke="#101010" stroke-width="1" fill="#fff"/>
<circle cx="770.3" cy="347.5" r="2.4" stroke="#101010" stroke-width="1" fill="#fff"/>
<circle cx="778.05" cy="347.5" r="2.4" stroke="#101010" stroke-width="1" fill="#fff"/>
<rect x="773.8" y="334" width="5.8" height="10.6" rx="0" stroke="#101010" stroke-width="1.3" fill="#fff"/>
<path d="M779.6,331 Q786,338.8 779.6,347" stroke="#101010" stroke-width="1.2" fill="#fff" stroke-linejoin="miter" />
<path d="M806,323 H809 V355 H806 Z" stroke="#101010" stroke-width="1.5" fill="#fff" stroke-linejoin="round" />
<path d="M809.3,325.3 H819.3 L821.5,327.3 V351.2 L819.3,353.2 H809.3 Z" stroke="#101010" stroke-width="1.6" fill="#fff" stroke-linejoin="miter" />
<line x1="809.6" y1="332" x2="821.7" y2="332" stroke="#101010" stroke-width="0.9" stroke-linecap="butt"/>
<line x1="809.6" y1="345.6" x2="821.7" y2="345.6" stroke="#101010" stroke-width="0.9" stroke-linecap="butt"/>
<path d="M821.7,331.4 H842 Q843.6,331.4 843.6,333 V344.4 Q843.6,346 842,346 H821.7" stroke="#101010" stroke-width="2.1" fill="#fff" stroke-linejoin="miter" />
<path d="M644.5,400 V367 L647,364.8 H663.5 L666,367 V400 M652.5,364.8 V350.5 H650.5 M658,364.8 V350.5 H660.6" stroke="#101010" stroke-width="1.3" fill="none" stroke-linejoin="miter" />
<line x1="652.5" y1="362" x2="658" y2="362" stroke="#101010" stroke-width="1.2" stroke-linecap="butt"/>
<linearGradient id="mg" x1="0" y1="0" x2="0" y2="1"><stop offset="0" stop-color="#999"/><stop offset="0.5" stop-color="#444"/><stop offset="1" stop-color="#aaa"/></linearGradient>
<rect x="645.2" y="373.3" width="20.2" height="5.6" rx="0" stroke="none" stroke-width="0" fill="url(#mg)"/>
<rect x="645.2" y="392.6" width="20.2" height="4" rx="0" stroke="none" stroke-width="0" fill="url(#mg)"/>
<line x1="645" y1="371.5" x2="665.5" y2="371.5" stroke="#444" stroke-width="1.2" stroke-linecap="butt"/>
<line x1="645" y1="390.5" x2="665.5" y2="390.5" stroke="#555" stroke-width="1.2" stroke-linecap="butt"/>
<path d="M646,397 V399.5 M664.5,397 V399.5" stroke="#101010" stroke-width="1.2" fill="none" stroke-linejoin="miter" />
<path d="M637.3,400 V407.3 Q637.3,409.1 639.2,409.1 H670.8 Q672.6,409.1 672.6,407.3 V400" stroke="#101010" stroke-width="1.4" fill="#fff" stroke-linejoin="miter" />
<line x1="637.3" y1="407.6" x2="672.6" y2="407.6" stroke="#666" stroke-width="0.8" stroke-linecap="butt"/>
<line x1="658.3" y1="365" x2="658.3" y2="415" stroke="#101010" stroke-width="1.2" stroke-dasharray="7 2 1.5 2" stroke-linecap="butt"/>
<line x1="538" y1="338.9" x2="847" y2="338.9" stroke="#101010" stroke-width="1.2" stroke-dasharray="9 2.5 2 2.5" stroke-linecap="butt"/>
<text transform="translate(577.60,270.00) scale(0.776,1)" font-size="17.4" text-anchor="start" fill="#111" font-weight="normal" stroke="#111" stroke-width="0.40">V1</text>
<text transform="translate(713.00,270.00) scale(0.800,1)" font-size="17.4" text-anchor="start" fill="#111" font-weight="normal" stroke="#111" stroke-width="0.40">V2</text>
<text transform="translate(577.00,422.00) scale(0.776,1)" font-size="17.4" text-anchor="start" fill="#111" font-weight="normal" stroke="#111" stroke-width="0.40">V1</text>
<text transform="translate(712.00,421.40) scale(0.800,1)" font-size="17.4" text-anchor="start" fill="#111" font-weight="normal" stroke="#111" stroke-width="0.40">V2</text>
<text transform="translate(653.00,429.00) scale(0.759,1)" font-size="17.4" text-anchor="start" fill="#111" font-weight="normal" stroke="#111" stroke-width="0.40">M</text>
</g>
<g id="logo">
<linearGradient id="lg" gradientUnits="userSpaceOnUse" x1="450" y1="85" x2="545" y2="195"><stop offset="0" stop-color="#6494c6"/><stop offset="1" stop-color="#5685b8"/></linearGradient>
<clipPath id="ic"><circle cx="497.3" cy="139" r="38.3"/></clipPath>
<mask id="lm" maskUnits="userSpaceOnUse" x="430" y="70" width="140" height="140">
<circle cx="497.3" cy="139" r="62.1" fill="#fff"/>
<circle cx="497.3" cy="139" r="37.4" fill="#000"/>
<g clip-path="url(#ic)" fill="#fff">
<polygon points="508.6,101 499.2,114.8 509.6,142.3 531.5,118.5 545,100 520,90"/>
<polygon points="463.5,159.2 483.4,133.1 493.1,162.3 485.2,177.5 470,190 450,170"/>
</g>
<polygon points="485.8,175.6 466,197 470,210 494.5,210 491.9,200.7" fill="#000"/>
</mask>
<rect x="430" y="70" width="140" height="140" fill="url(#lg)" opacity="0.73" mask="url(#lm)"/>
<text x="586.5 632.7 678.9 725.1" y="139.6" font-size="46.8" font-weight="bold" text-anchor="start" fill="#6a6666" stroke="#fff" stroke-width="0.75" stroke-linejoin="round" style="font-family:'Liberation Sans','Noto Sans CJK SC',sans-serif">爱泽工业</text>
<text stroke="#fff" stroke-width="0.7" transform="translate(587.60,176.00) scale(0.984,1)" font-size="27.3" text-anchor="start" fill="#9b9b9b" font-weight="normal">IZE INDUSTRIES</text>
<text transform="translate(597.50,39.20) scale(1.000,1)" font-size="18.6" text-anchor="start" fill="#2b2b2b" font-weight="normal" letter-spacing="0.56">Dimensions [mm (inches)]</text>
</g>
<g id="table">
<line x1="6.800000000000001" y1="477.4" x2="729.4" y2="477.4" stroke="#222" stroke-width="1.1" stroke-linecap="butt"/>
<line x1="6.800000000000001" y1="514.4" x2="729.4" y2="514.4" stroke="#222" stroke-width="1.1" stroke-linecap="butt"/>
<line x1="6.800000000000001" y1="552" x2="729.4" y2="552" stroke="#222" stroke-width="1.1" stroke-linecap="butt"/>
<line x1="6.800000000000001" y1="589.3" x2="729.4" y2="589.3" stroke="#222" stroke-width="1.1" stroke-linecap="butt"/>
<line x1="7.4" y1="477.4" x2="7.4" y2="589.3" stroke="#222" stroke-width="1.1" stroke-linecap="butt"/>
<line x1="46.76" y1="477.4" x2="46.76" y2="589.3" stroke="#222" stroke-width="1.1" stroke-linecap="butt"/>
<line x1="86.12" y1="477.4" x2="86.12" y2="589.3" stroke="#222" stroke-width="1.1" stroke-linecap="butt"/>
<line x1="125.48" y1="477.4" x2="125.48" y2="589.3" stroke="#222" stroke-width="1.1" stroke-linecap="butt"/>
<line x1="164.84" y1="477.4" x2="164.84" y2="589.3" stroke="#222" stroke-width="1.1" stroke-linecap="butt"/>
<line x1="204.20000000000002" y1="477.4" x2="204.20000000000002" y2="589.3" stroke="#222" stroke-width="1.1" stroke-linecap="butt"/>
<line x1="243.56" y1="477.4" x2="243.56" y2="589.3" stroke="#222" stroke-width="1.1" stroke-linecap="butt"/>
<line x1="282.91999999999996" y1="477.4" x2="282.91999999999996" y2="589.3" stroke="#222" stroke-width="1.1" stroke-linecap="butt"/>
<line x1="322.28" y1="477.4" x2="322.28" y2="589.3" stroke="#222" stroke-width="1.1" stroke-linecap="butt"/>
<line x1="361.64" y1="477.4" x2="361.64" y2="589.3" stroke="#222" stroke-width="1.1" stroke-linecap="butt"/>
<line x1="401.0" y1="477.4" x2="401.0" y2="589.3" stroke="#222" stroke-width="1.1" stroke-linecap="butt"/>
<line x1="440.35999999999996" y1="477.4" x2="440.35999999999996" y2="589.3" stroke="#222" stroke-width="1.1" stroke-linecap="butt"/>
<line x1="479.71999999999997" y1="477.4" x2="479.71999999999997" y2="589.3" stroke="#222" stroke-width="1.1" stroke-linecap="butt"/>
<line x1="519.08" y1="477.4" x2="519.08" y2="589.3" stroke="#222" stroke-width="1.1" stroke-linecap="butt"/>
<line x1="558.4399999999999" y1="477.4" x2="558.4399999999999" y2="589.3" stroke="#222" stroke-width="1.1" stroke-linecap="butt"/>
<line x1="597.5" y1="477.4" x2="597.5" y2="589.3" stroke="#222" stroke-width="1.1" stroke-linecap="butt"/>
<line x1="673.8" y1="477.4" x2="673.8" y2="589.3" stroke="#222" stroke-width="1.1" stroke-linecap="butt"/>
<line x1="728.8" y1="477.4" x2="728.8" y2="589.3" stroke="#222" stroke-width="1.1" stroke-linecap="butt"/>
<text transform="translate(27.08,491.10) scale(0.920,1)" font-size="13.5" text-anchor="middle" fill="#111" font-weight="normal" stroke="#111" stroke-width="0.22">17.5</text>
<text transform="translate(27.08,508.70) scale(0.920,1)" font-size="13.5" text-anchor="middle" fill="#111" font-weight="normal" stroke="#111" stroke-width="0.22">(0.69)</text>
<text transform="translate(27.08,528.60) scale(0.920,1)" font-size="13.5" text-anchor="middle" fill="#111" font-weight="normal" stroke="#111" stroke-width="0.22">15</text>
<text transform="translate(27.08,546.10) scale(0.920,1)" font-size="13.5" text-anchor="middle" fill="#111" font-weight="normal" stroke="#111" stroke-width="0.22">(0.59)</text>
<text transform="translate(27.08,577.00) scale(0.800,1)" font-size="17.5" text-anchor="middle" fill="#111" font-weight="normal" stroke="#111" stroke-width="0.40">S1</text>
<text transform="translate(66.44,491.10) scale(0.920,1)" font-size="13.5" text-anchor="middle" fill="#111" font-weight="normal" stroke="#111" stroke-width="0.22">34.5</text>
<text transform="translate(66.44,508.70) scale(0.920,1)" font-size="13.5" text-anchor="middle" fill="#111" font-weight="normal" stroke="#111" stroke-width="0.22">(1.36)</text>
<text transform="translate(66.44,528.60) scale(0.920,1)" font-size="13.5" text-anchor="middle" fill="#111" font-weight="normal" stroke="#111" stroke-width="0.22">29.5</text>
<text transform="translate(66.44,546.10) scale(0.920,1)" font-size="13.5" text-anchor="middle" fill="#111" font-weight="normal" stroke="#111" stroke-width="0.22">(1.16)</text>
<text transform="translate(66.44,577.00) scale(0.800,1)" font-size="17.5" text-anchor="middle" fill="#111" font-weight="normal" stroke="#111" stroke-width="0.40">S</text>
<text transform="translate(105.80,491.10) scale(0.920,1)" font-size="13.5" text-anchor="middle" fill="#111" font-weight="normal" stroke="#111" stroke-width="0.22">36</text>
<text transform="translate(105.80,508.70) scale(0.920,1)" font-size="13.5" text-anchor="middle" fill="#111" font-weight="normal" stroke="#111" stroke-width="0.22">(1.42)</text>
<text transform="translate(105.80,528.60) scale(0.920,1)" font-size="13.5" text-anchor="middle" fill="#111" font-weight="normal" stroke="#111" stroke-width="0.22">36</text>
<text transform="translate(105.80,546.10) scale(0.920,1)" font-size="13.5" text-anchor="middle" fill="#111" font-weight="normal" stroke="#111" stroke-width="0.22">(1.42)</text>
<text transform="translate(105.80,577.00) scale(0.800,1)" font-size="17.5" text-anchor="middle" fill="#111" font-weight="normal" stroke="#111" stroke-width="0.40">L5</text>
<text transform="translate(145.16,491.10) scale(0.920,1)" font-size="13.5" text-anchor="middle" fill="#111" font-weight="normal" stroke="#111" stroke-width="0.22">36</text>
<text transform="translate(145.16,508.70) scale(0.920,1)" font-size="13.5" text-anchor="middle" fill="#111" font-weight="normal" stroke="#111" stroke-width="0.22">(1.42)</text>
<text transform="translate(145.16,528.60) scale(0.920,1)" font-size="13.5" text-anchor="middle" fill="#111" font-weight="normal" stroke="#111" stroke-width="0.22">36</text>
<text transform="translate(145.16,546.10) scale(0.920,1)" font-size="13.5" text-anchor="middle" fill="#111" font-weight="normal" stroke="#111" stroke-width="0.22">(1.42)</text>
<text transform="translate(145.16,577.00) scale(0.800,1)" font-size="17.5" text-anchor="middle" fill="#111" font-weight="normal" stroke="#111" stroke-width="0.40">L4</text>
<text transform="translate(184.52,491.10) scale(0.920,1)" font-size="13.5" text-anchor="middle" fill="#111" font-weight="normal" stroke="#111" stroke-width="0.22">39</text>
<text transform="translate(184.52,508.70) scale(0.920,1)" font-size="13.5" text-anchor="middle" fill="#111" font-weight="normal" stroke="#111" stroke-width="0.22">(1.54)</text>
<text transform="translate(184.52,528.60) scale(0.920,1)" font-size="13.5" text-anchor="middle" fill="#111" font-weight="normal" stroke="#111" stroke-width="0.22">39.3</text>
<text transform="translate(184.52,546.10) scale(0.920,1)" font-size="13.5" text-anchor="middle" fill="#111" font-weight="normal" stroke="#111" stroke-width="0.22">(1.55)</text>
<text transform="translate(184.52,577.00) scale(0.800,1)" font-size="17.5" text-anchor="middle" fill="#111" font-weight="normal" stroke="#111" stroke-width="0.40">L3</text>
<text transform="translate(223.88,491.10) scale(0.920,1)" font-size="13.5" text-anchor="middle" fill="#111" font-weight="normal" stroke="#111" stroke-width="0.22">18</text>
<text transform="translate(223.88,508.70) scale(0.920,1)" font-size="13.5" text-anchor="middle" fill="#111" font-weight="normal" stroke="#111" stroke-width="0.22">(0.71)</text>
<text transform="translate(223.88,528.60) scale(0.920,1)" font-size="13.5" text-anchor="middle" fill="#111" font-weight="normal" stroke="#111" stroke-width="0.22">18</text>
<text transform="translate(223.88,546.10) scale(0.920,1)" font-size="13.5" text-anchor="middle" fill="#111" font-weight="normal" stroke="#111" stroke-width="0.22">(0.71)</text>
<text transform="translate(223.88,577.00) scale(0.800,1)" font-size="17.5" text-anchor="middle" fill="#111" font-weight="normal" stroke="#111" stroke-width="0.40">L2</text>
<text transform="translate(263.24,491.10) scale(0.920,1)" font-size="13.5" text-anchor="middle" fill="#111" font-weight="normal" stroke="#111" stroke-width="0.22">89.5</text>
<text transform="translate(263.24,508.70) scale(0.920,1)" font-size="13.5" text-anchor="middle" fill="#111" font-weight="normal" stroke="#111" stroke-width="0.22">(3.52)</text>
<text transform="translate(263.24,528.60) scale(0.920,1)" font-size="13.5" text-anchor="middle" fill="#111" font-weight="normal" stroke="#111" stroke-width="0.22">88.3</text>
<text transform="translate(263.24,546.10) scale(0.920,1)" font-size="13.5" text-anchor="middle" fill="#111" font-weight="normal" stroke="#111" stroke-width="0.22">(3.48)</text>
<text transform="translate(263.24,577.00) scale(0.800,1)" font-size="17.5" text-anchor="middle" fill="#111" font-weight="normal" stroke="#111" stroke-width="0.40">L1</text>
<text transform="translate(302.60,491.10) scale(0.920,1)" font-size="13.5" text-anchor="middle" fill="#111" font-weight="normal" stroke="#111" stroke-width="0.22">109</text>
<text transform="translate(302.60,508.70) scale(0.920,1)" font-size="13.5" text-anchor="middle" fill="#111" font-weight="normal" stroke="#111" stroke-width="0.22">(4.29)</text>
<text transform="translate(302.60,528.60) scale(0.920,1)" font-size="13.5" text-anchor="middle" fill="#111" font-weight="normal" stroke="#111" stroke-width="0.22">109</text>
<text transform="translate(302.60,546.10) scale(0.920,1)" font-size="13.5" text-anchor="middle" fill="#111" font-weight="normal" stroke="#111" stroke-width="0.22">(4.29)</text>
<text transform="translate(302.60,577.00) scale(0.800,1)" font-size="17.5" text-anchor="middle" fill="#111" font-weight="normal" stroke="#111" stroke-width="0.40">L</text>
<text transform="translate(341.96,491.10) scale(0.920,1)" font-size="13.5" text-anchor="middle" fill="#111" font-weight="normal" stroke="#111" stroke-width="0.22">3.5</text>
<text transform="translate(341.96,508.70) scale(0.920,1)" font-size="13.5" text-anchor="middle" fill="#111" font-weight="normal" stroke="#111" stroke-width="0.22">(0.14)</text>
<text transform="translate(341.96,528.60) scale(0.920,1)" font-size="13.5" text-anchor="middle" fill="#111" font-weight="normal" stroke="#111" stroke-width="0.22">3.5</text>
<text transform="translate(341.96,546.10) scale(0.920,1)" font-size="13.5" text-anchor="middle" fill="#111" font-weight="normal" stroke="#111" stroke-width="0.22">(0.14)</text>
<text transform="translate(341.96,577.00) scale(0.800,1)" font-size="17.5" text-anchor="middle" fill="#111" font-weight="normal" stroke="#111" stroke-width="0.40"><tspan font-weight="bold">I</tspan>1</text>
<text transform="translate(381.32,491.10) scale(0.920,1)" font-size="13.5" text-anchor="middle" fill="#111" font-weight="normal" stroke="#111" stroke-width="0.22">47</text>
<text transform="translate(381.32,508.70) scale(0.920,1)" font-size="13.5" text-anchor="middle" fill="#111" font-weight="normal" stroke="#111" stroke-width="0.22">(1.85)</text>
<text transform="translate(381.32,528.60) scale(0.920,1)" font-size="13.5" text-anchor="middle" fill="#111" font-weight="normal" stroke="#111" stroke-width="0.22">47</text>
<text transform="translate(381.32,546.10) scale(0.920,1)" font-size="13.5" text-anchor="middle" fill="#111" font-weight="normal" stroke="#111" stroke-width="0.22">(1.85)</text>
<text transform="translate(381.32,577.00) scale(0.800,1)" font-size="17.5" text-anchor="middle" fill="#111" font-weight="normal" stroke="#111" stroke-width="0.40"><tspan font-weight="bold">I</tspan></text>
<text transform="translate(420.68,491.10) scale(0.920,1)" font-size="13.5" text-anchor="middle" fill="#111" font-weight="normal" stroke="#111" stroke-width="0.22">6</text>
<text transform="translate(420.68,508.70) scale(0.920,1)" font-size="13.5" text-anchor="middle" fill="#111" font-weight="normal" stroke="#111" stroke-width="0.22">(0.24)</text>
<text transform="translate(420.68,528.60) scale(0.920,1)" font-size="13.5" text-anchor="middle" fill="#111" font-weight="normal" stroke="#111" stroke-width="0.22">6</text>
<text transform="translate(420.68,546.10) scale(0.920,1)" font-size="13.5" text-anchor="middle" fill="#111" font-weight="normal" stroke="#111" stroke-width="0.22">(0.24)</text>
<text transform="translate(420.68,577.00) scale(0.800,1)" font-size="17.5" text-anchor="middle" fill="#111" font-weight="normal" stroke="#111" stroke-width="0.40">H2</text>
<text transform="translate(460.04,491.10) scale(0.920,1)" font-size="13.5" text-anchor="middle" fill="#111" font-weight="normal" stroke="#111" stroke-width="0.22">30</text>
<text transform="translate(460.04,508.70) scale(0.920,1)" font-size="13.5" text-anchor="middle" fill="#111" font-weight="normal" stroke="#111" stroke-width="0.22">(1.18)</text>
<text transform="translate(460.04,528.60) scale(0.920,1)" font-size="13.5" text-anchor="middle" fill="#111" font-weight="normal" stroke="#111" stroke-width="0.22">30</text>
<text transform="translate(460.04,546.10) scale(0.920,1)" font-size="13.5" text-anchor="middle" fill="#111" font-weight="normal" stroke="#111" stroke-width="0.22">(1.18)</text>
<text transform="translate(460.04,577.00) scale(0.800,1)" font-size="17.5" text-anchor="middle" fill="#111" font-weight="normal" stroke="#111" stroke-width="0.40">H1</text>
<text transform="translate(499.40,491.10) scale(0.920,1)" font-size="13.5" text-anchor="middle" fill="#111" font-weight="normal" stroke="#111" stroke-width="0.22">65</text>
<text transform="translate(499.40,508.70) scale(0.920,1)" font-size="13.5" text-anchor="middle" fill="#111" font-weight="normal" stroke="#111" stroke-width="0.22">(2.56)</text>
<text transform="translate(499.40,528.60) scale(0.920,1)" font-size="13.5" text-anchor="middle" fill="#111" font-weight="normal" stroke="#111" stroke-width="0.22">55</text>
<text transform="translate(499.40,546.10) scale(0.920,1)" font-size="13.5" text-anchor="middle" fill="#111" font-weight="normal" stroke="#111" stroke-width="0.22">(2.17)</text>
<text transform="translate(499.40,577.00) scale(0.800,1)" font-size="17.5" text-anchor="middle" fill="#111" font-weight="normal" stroke="#111" stroke-width="0.40">H</text>
<text transform="translate(538.76,491.10) scale(0.920,1)" font-size="13.5" text-anchor="middle" fill="#111" font-weight="normal" stroke="#111" stroke-width="0.22">8.5</text>
<text transform="translate(538.76,508.70) scale(0.920,1)" font-size="13.5" text-anchor="middle" fill="#111" font-weight="normal" stroke="#111" stroke-width="0.22">(0.34)</text>
<text transform="translate(538.76,528.60) scale(0.920,1)" font-size="13.5" text-anchor="middle" fill="#111" font-weight="normal" stroke="#111" stroke-width="0.22">8.5</text>
<text transform="translate(538.76,546.10) scale(0.920,1)" font-size="13.5" text-anchor="middle" fill="#111" font-weight="normal" stroke="#111" stroke-width="0.22">(0.34)</text>
<text transform="translate(538.76,577.00) scale(0.800,1)" font-size="17.5" text-anchor="middle" fill="#111" font-weight="normal" stroke="#111" stroke-width="0.40">F</text>
<text transform="translate(636.25,502.00) scale(0.845,1)" font-size="17.5" text-anchor="middle" fill="#111" font-weight="normal" stroke="#111" stroke-width="0.40">G 1/2</text>
<text transform="translate(636.25,538.80) scale(0.845,1)" font-size="17.5" text-anchor="middle" fill="#111" font-weight="normal" stroke="#111" stroke-width="0.40">G 3/8</text>
<text transform="translate(637.05,577.50) scale(0.820,1)" font-size="17.5" text-anchor="middle" fill="#111" font-weight="normal" stroke="#111" stroke-width="0.40">Y</text>
<text transform="translate(701.00,492.00) scale(0.870,1)" font-size="17.6" text-anchor="middle" fill="#111" font-weight="normal" stroke="#111" stroke-width="0.40">1.75</text>
<text transform="translate(701.00,508.80) scale(0.870,1)" font-size="17.6" text-anchor="middle" fill="#111" font-weight="normal" stroke="#111" stroke-width="0.40">(3.86)</text>
<text transform="translate(701.00,529.30) scale(0.870,1)" font-size="17.6" text-anchor="middle" fill="#111" font-weight="normal" stroke="#111" stroke-width="0.40">1.24</text>
<text transform="translate(701.00,546.30) scale(0.870,1)" font-size="17.6" text-anchor="middle" fill="#111" font-weight="normal" stroke="#111" stroke-width="0.40">(2.73)</text>
<text transform="translate(701.00,567.50) scale(0.865,1)" font-size="17.5" text-anchor="middle" fill="#111" font-weight="normal" stroke="#111" stroke-width="0.40">Weight</text>
<text transform="translate(701.00,584.30) scale(0.865,1)" font-size="17.5" text-anchor="middle" fill="#111" font-weight="normal" stroke="#111" stroke-width="0.40">kg (lbs)</text>
</g>
</g>
</svg>
</body></html>
